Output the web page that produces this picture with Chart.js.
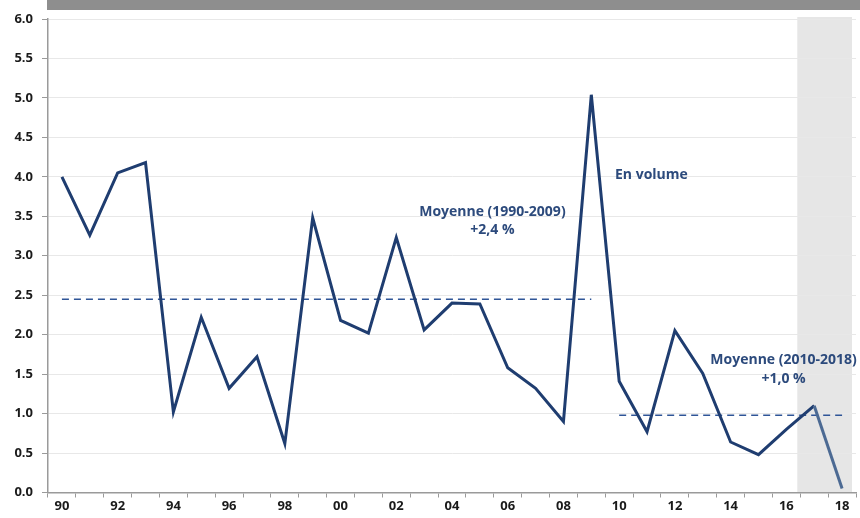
<!DOCTYPE html>
<html>
<head>
<meta charset="utf-8">
<script src="https://cdn.jsdelivr.net/npm/chart.js@4/dist/chart.umd.min.js"></script>
<style>
  html, body { margin: 0; padding: 0; background: #fff; }
  canvas { display: block; }
</style>
</head>
<body>
<canvas id="chart" width="860" height="518"></canvas>
<script>
// years 1990 .. 2018
const years = ['90', '91', '92', '93', '94', '95', '96', '97', '98', '99',
               '00', '01', '02', '03', '04', '05', '06', '07', '08', '09',
               '10', '11', '12', '13', '14', '15', '16', '17', '18'];
const growth = [4.0, 3.26, 4.05, 4.18, 1.02, 2.22, 1.32, 1.72, 0.62, 3.48,
                2.18, 2.02, 3.23, 2.06, 2.40, 2.39, 1.58, 1.32, 0.90, 5.04,
                1.41, 0.77, 2.05, 1.51, 0.64, 0.48, 0.80, 1.10, 0.05];
const avgOld = 2.45;   // 1990-2009
const avgNew = 0.98;   // 2010-2018
const forecastFrom = '17';
const yTicks = [0, 0.5, 1, 1.5, 2, 2.5, 3, 3.5, 4, 4.5, 5, 5.5, 6];

const navy = '#1f3d70';
const dashBlue = '#2f5597';
const textBlue = '#2c4a7c';

let avgOldLine = years.map((y, i) => (i <= 19 ? avgOld : null));
let avgNewLine = years.map((y, i) => (i >= 20 ? avgNew : null));

// shaded forecast area + grey band on top
const backdrop = {
    id: 'backdrop',
    beforeDraw(chart) {
        const ctx = chart.ctx;
        const area = chart.chartArea;
        const x = chart.scales.x;
        let idx = years.indexOf(forecastFrom);
        let half = (x.getPixelForValue(1) - x.getPixelForValue(0)) / 2;
        let left = x.getPixelForValue(idx) - half - 3;
        ctx.save();
        ctx.fillStyle = '#e6e6e6';
        ctx.fillRect(left, area.top - 2, area.right - 4 - left, area.bottom - area.top + 2);
        ctx.fillStyle = '#8e8e8e';
        ctx.fillRect(area.left - 1, 0, chart.width - area.left + 1, 10);
        ctx.restore();
    }
};

// text notes placed by data values
const notes = [
    { text: 'Moyenne (1990-2009)', x: 15.45, y: 3.56, align: 'center' },
    { text: '+2,4 %', x: 15.45, y: 3.32, align: 'center' },
    { text: 'En volume', x: 19.85, y: 4.02, align: 'left' },
    { text: 'Moyenne (2010-2018)', x: 25.9, y: 1.68, align: 'center' },
    { text: '+1,0 %', x: 25.9, y: 1.44, align: 'center' }
];

const annotate = {
    id: 'annotate',
    afterDatasetsDraw(chart) {
        const ctx = chart.ctx;
        const xs = chart.scales.x;
        const ys = chart.scales.y;
        ctx.save();
        ctx.fillStyle = textBlue;
        ctx.font = 'bold 14px "Open Sans", sans-serif';
        ctx.textBaseline = 'middle';
        notes.forEach(n => {
            ctx.textAlign = n.align;
            ctx.fillText(n.text, xs.getPixelForValue(n.x), ys.getPixelForValue(n.y));
        });
        ctx.restore();
    }
};

new Chart(document.getElementById('chart'), {
    type: 'line',
    data: {
        labels: years,
        datasets: [
            {
                data: growth,
                borderColor: navy,
                borderWidth: 3,
                pointRadius: 0,
                tension: 0,
                segment: {
                    borderColor: c => (c.p0DataIndex >= years.indexOf(forecastFrom) ? '#4c6a93' : navy)
                },
                order: 0
            },
            {
                data: avgOldLine,
                borderColor: dashBlue,
                borderWidth: 1.5,
                borderDash: [7, 5],
                pointRadius: 0,
                order: 1
            },
            {
                data: avgNewLine,
                borderColor: dashBlue,
                borderWidth: 1.5,
                borderDash: [7, 5],
                pointRadius: 0,
                order: 1
            }
        ]
    },
    options: {
        responsive: false,
        animation: false,
        layout: { padding: { top: 19, right: 4, left: 0, bottom: 0 } },
        plugins: {
            legend: { display: false },
            tooltip: { enabled: false }
        },
        scales: {
            x: {
                offset: true,
                grid: {
                    offset: true,
                    drawOnChartArea: false,
                    color: '#9a9a9a',
                    tickLength: 5
                },
                border: { color: '#9a9a9a', width: 1.5 },
                ticks: {
                    autoSkip: false,
                    maxRotation: 0,
                    color: '#1a1a1a',
                    font: { family: '"Open Sans", sans-serif', weight: 'bold', size: 13 },
                    padding: 1,
                    callback: function (v, i) { return i % 2 === 0 ? years[i] : ''; }
                },
                afterFit: s => { s.height = 25.5; }
            },
            y: {
                min: 0,
                max: 6,
                afterBuildTicks: s => { s.ticks = yTicks.map(v => ({ value: v })); },
                grid: {
                    color: '#e8e8e8',
                    tickColor: '#9a9a9a',
                    tickLength: 6
                },
                border: { color: '#9a9a9a', width: 1.5 },
                ticks: {
                    color: '#1a1a1a',
                    font: { family: '"Open Sans", sans-serif', weight: 'bold', size: 13 },
                    padding: 9,
                    callback: v => v.toFixed(1)
                },
                afterFit: s => { s.width = 48; }
            }
        }
    },
    plugins: [backdrop, annotate]
});
</script>
</body>
</html>
